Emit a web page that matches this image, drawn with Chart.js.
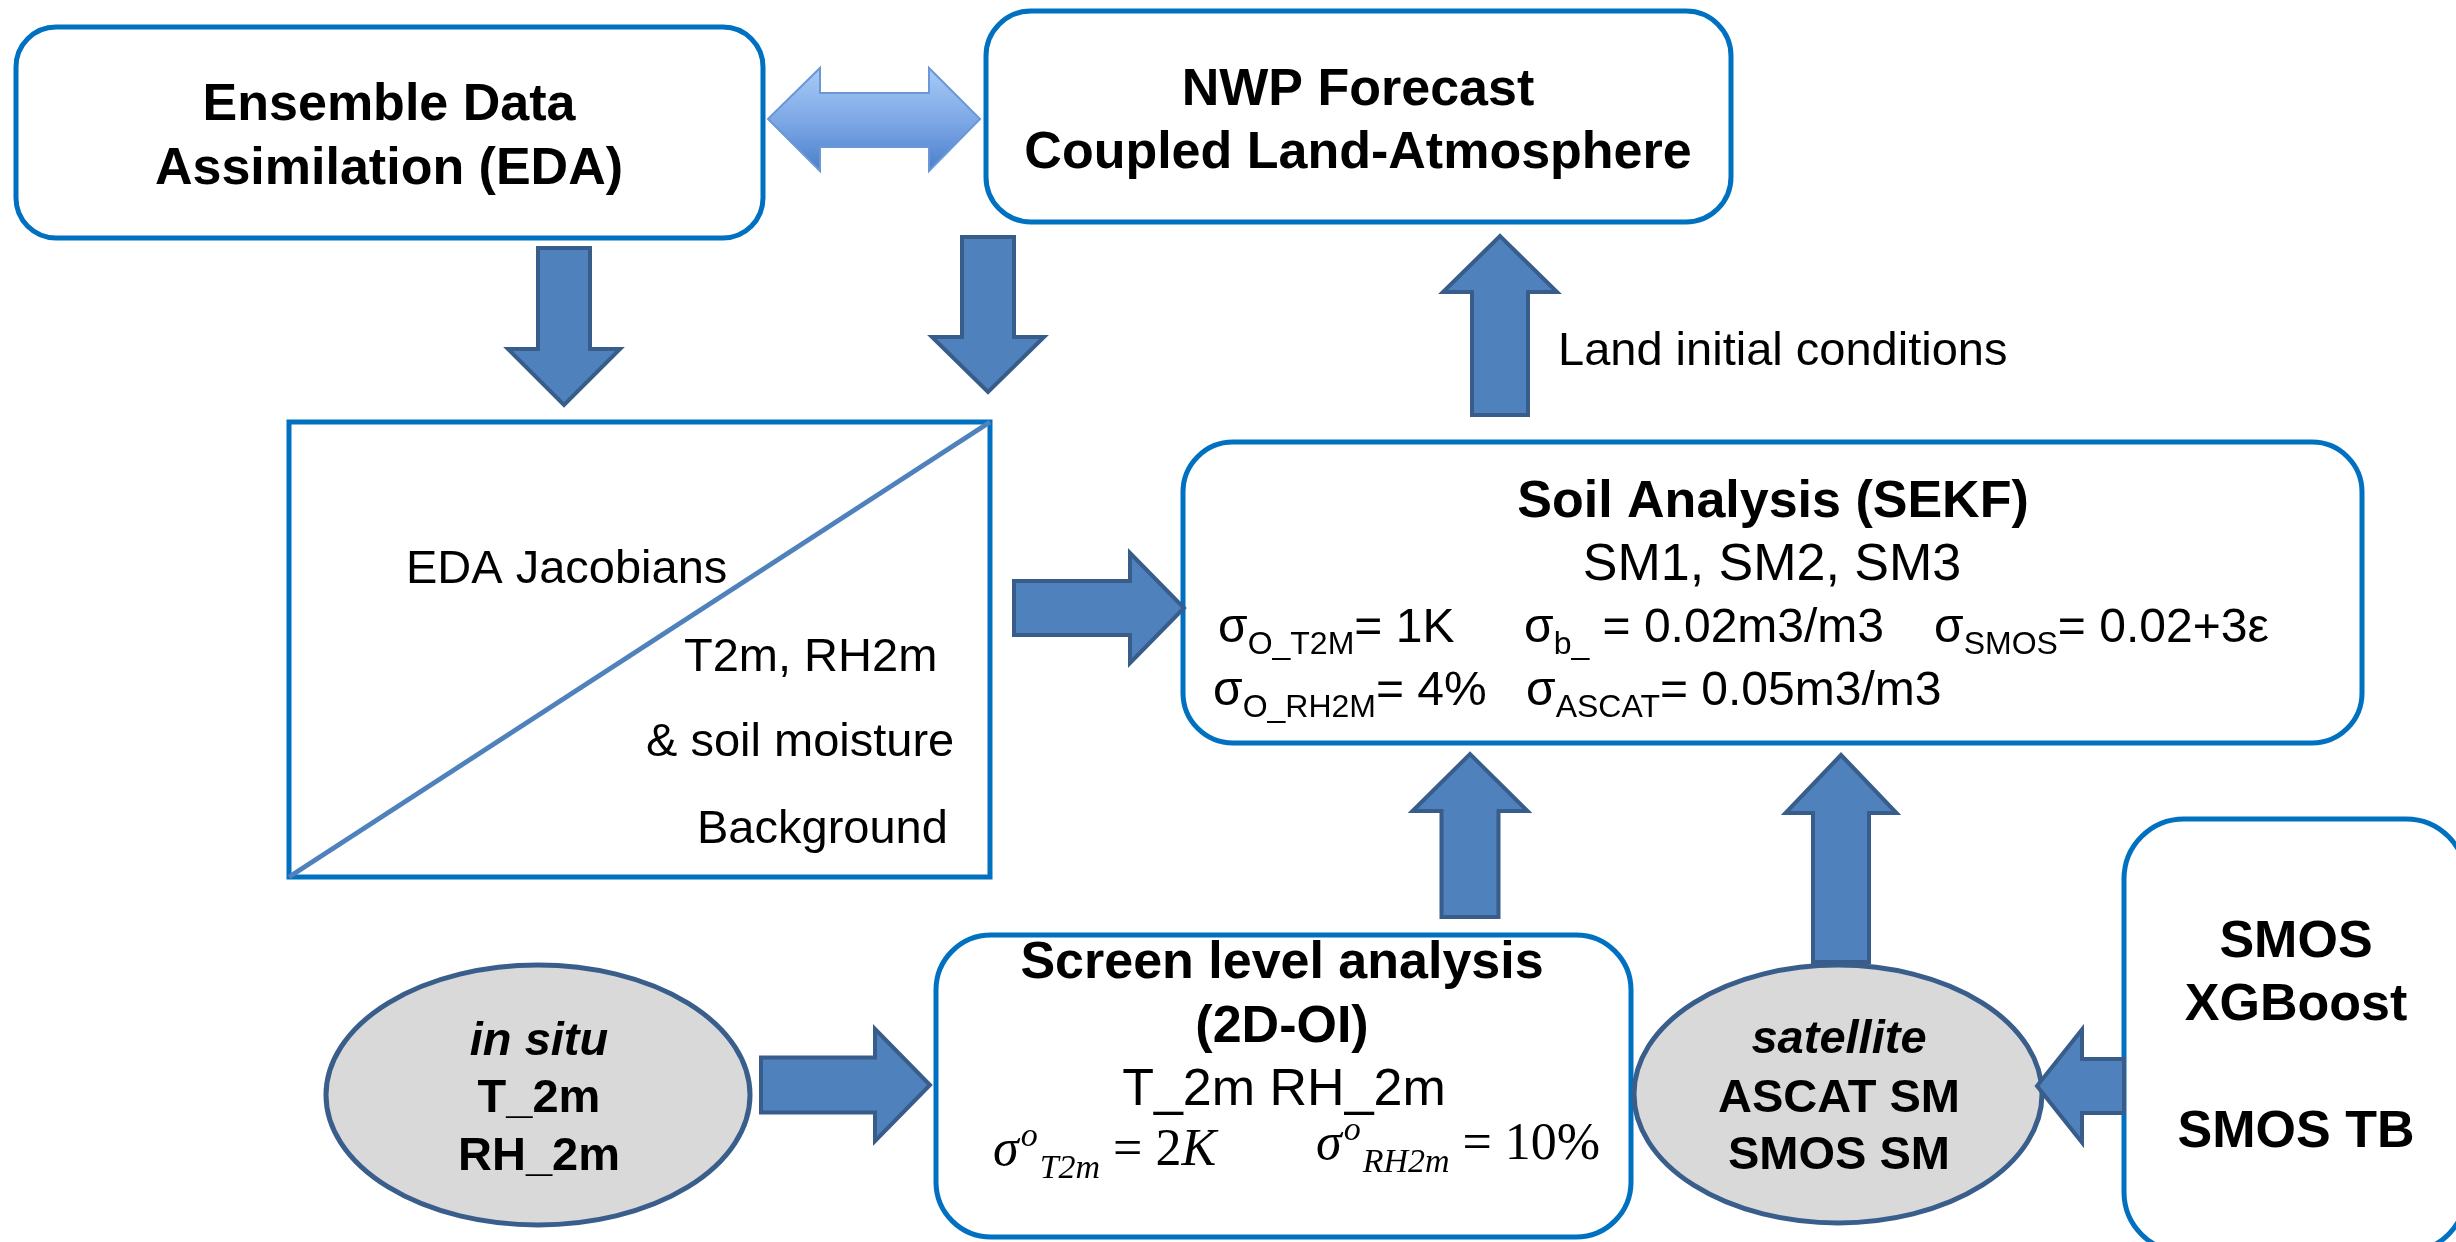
<!DOCTYPE html>
<html>
<head>
<meta charset="utf-8">
<script src="https://cdn.jsdelivr.net/npm/chart.js@4.4.1/dist/chart.umd.min.js"></script>
<style>
  html, body { margin: 0; padding: 0; background: #fff; }
  #wrap { width: 2456px; height: 1242px; position: relative; }
</style>
</head>
<body>
<div id="wrap"><canvas id="diagram"></canvas></div>
<script>
// canvas extent in data units (1 unit = 1 px of the reference)
const W = 2456, H = 1242;

// node texts
const edaLines = ['Ensemble Data', 'Assimilation (EDA)'];
const nwpLines = ['NWP Forecast', 'Coupled Land-Atmosphere'];
const linkLabel = 'Land initial conditions';
const jacLines = ['EDA Jacobians', 'T2m, RH2m', '& soil moisture', 'Background'];
const soilLines = ['Soil Analysis (SEKF)', 'SM1, SM2, SM3'];
const screenLines = ['Screen level analysis', '(2D-OI)', 'T_2m RH_2m'];
const insituLines = ['in situ', 'T_2m', 'RH_2m'];
const satLines = ['satellite', 'ASCAT SM', 'SMOS SM'];
const smosLines = ['SMOS', 'XGBoost', 'SMOS TB'];

// error settings in the soil analysis box: [symbol subscript, value]
const soilSigmaRow1 = [['O_T2M', '= 1K'], ['b_', ' = 0.02m3/m3'], ['SMOS', '= 0.02+3\u03b5']];
const soilSigmaRow2 = [['O_RH2M', '= 4%'], ['ASCAT', '= 0.05m3/m3']];
const screenSigma = [['T2m', ' = 2', 'K'], ['RH2m', ' = 10%', '']];

// layout: boxes [x0, y0, x1, y1, radius]
const roundBoxes = [
  [16, 27, 763, 238, 40],
  [986, 11, 1731, 222, 45],
  [1183, 442, 2362, 743, 50],
  [936, 935, 1631, 1237, 55],
  [2124, 819, 2466, 1252, 60]
];
const jacBox = [289, 422, 990, 877];
const ellipses = [[538, 1095, 212, 130], [1838, 1094, 204, 129]];
// block arrows [tailX, tailY, tipX, tipY, shaft, head, headLen]
const arrows = [
  [564, 248, 564, 405, 52, 112, 56],
  [988, 237, 988, 392, 52, 112, 55],
  [1500, 415, 1500, 236, 56, 114, 56],
  [1014, 608, 1184, 608, 54, 110, 54],
  [1470, 917, 1470, 754, 57, 115, 57],
  [1841, 962, 1841, 755, 56, 111, 58],
  [761, 1085, 930, 1085, 55, 112, 55],
  [2124, 1086, 2037, 1086, 54, 113, 45]
];
const diagonal = [{x: 289, y: 877}, {x: 990, y: 422}];

const SANS = '"Liberation Sans", Arial, sans-serif';
const SERIF = '"Liberation Serif", "Times New Roman", serif';

const diagramPlugin = {
  id: 'diagram',
  beforeDatasetsDraw(chart) {
    const ctx = chart.ctx, sx = chart.scales.x, sy = chart.scales.y;
    const px = v => sx.getPixelForValue(v), py = v => sy.getPixelForValue(v);
    ctx.save();

    // rounded boxes
    roundBoxes.forEach(([x0, y0, x1, y1, r]) => {
      const a = px(x0), b = py(y0), c = px(x1), d = py(y1);
      ctx.beginPath();
      ctx.moveTo(a + r, b);
      ctx.arcTo(c, b, c, d, r);
      ctx.arcTo(c, d, a, d, r);
      ctx.arcTo(a, d, a, b, r);
      ctx.arcTo(a, b, c, b, r);
      ctx.closePath();
      ctx.fillStyle = '#fff';
      ctx.fill();
      ctx.lineWidth = 5;
      ctx.strokeStyle = '#0070C0';
      ctx.stroke();
    });

    // jacobian box
    ctx.lineWidth = 5;
    ctx.strokeStyle = '#0070C0';
    ctx.strokeRect(px(jacBox[0]), py(jacBox[1]), px(jacBox[2]) - px(jacBox[0]), py(jacBox[3]) - py(jacBox[1]));

    // observation ellipses
    ellipses.forEach(([cx, cy, rx, ry]) => {
      ctx.beginPath();
      ctx.ellipse(px(cx), py(cy), rx, ry, 0, 0, Math.PI * 2);
      ctx.fillStyle = '#D9D9D9';
      ctx.fill();
      ctx.lineWidth = 5;
      ctx.strokeStyle = '#3A5E8C';
      ctx.stroke();
    });

    // block arrows
    arrows.forEach(([x0, y0, x1, y1, sw, hw, hl]) => {
      const a = px(x0), b = py(y0), c = px(x1), d = py(y1);
      const len = Math.hypot(c - a, d - b);
      const ux = (c - a) / len, uy = (d - b) / len, nx = -uy, ny = ux;
      const pts = [
        [0, sw / 2], [len - hl, sw / 2], [len - hl, hw / 2], [len, 0],
        [len - hl, -hw / 2], [len - hl, -sw / 2], [0, -sw / 2]
      ];
      ctx.beginPath();
      pts.forEach(([s, t], i) => {
        const X = a + ux * s + nx * t, Y = b + uy * s + ny * t;
        i ? ctx.lineTo(X, Y) : ctx.moveTo(X, Y);
      });
      ctx.closePath();
      ctx.fillStyle = '#4F81BD';
      ctx.fill();
      ctx.lineJoin = 'miter';
      ctx.lineWidth = 4;
      ctx.strokeStyle = '#385D8A';
      ctx.stroke();
    });

    // double arrow between EDA and forecast
    const L = px(768), R = px(980), nl = px(820), nr = px(929), cy = py(119);
    const st = py(93), sb = py(147), ht = py(68), hb = py(171);
    ctx.beginPath();
    ctx.moveTo(L, cy); ctx.lineTo(nl, ht); ctx.lineTo(nl, st); ctx.lineTo(nr, st);
    ctx.lineTo(nr, ht); ctx.lineTo(R, cy); ctx.lineTo(nr, hb); ctx.lineTo(nr, sb);
    ctx.lineTo(nl, sb); ctx.lineTo(nl, hb); ctx.closePath();
    const g = ctx.createLinearGradient(0, ht, 0, hb);
    g.addColorStop(0, '#A7CBF8');
    g.addColorStop(0.5, '#7FA9E6');
    g.addColorStop(1, '#4A7FCB');
    ctx.fillStyle = g;
    ctx.fill();
    ctx.lineWidth = 2;
    ctx.strokeStyle = '#6A98D6';
    ctx.stroke();
    ctx.restore();
  },
  afterDatasetsDraw(chart) {
    const ctx = chart.ctx, sx = chart.scales.x, sy = chart.scales.y;
    const px = v => sx.getPixelForValue(v), py = v => sy.getPixelForValue(v);
    ctx.save();
    ctx.fillStyle = '#000';
    ctx.textBaseline = 'alphabetic';

    const text = (s, x, y, font, align) => {
      ctx.font = font;
      ctx.textAlign = align || 'center';
      ctx.fillText(s, px(x), py(y));
    };
    // segments: [string, font, dy]
    const rich = (segs, x, y) => {
      let cx = px(x);
      ctx.textAlign = 'left';
      segs.forEach(([s, font, dy]) => {
        ctx.font = font;
        ctx.fillText(s, cx, py(y) + (dy || 0));
        cx += ctx.measureText(s).width;
      });
    };

    const B52 = 'bold 52px ' + SANS, R52 = '52px ' + SANS;
    const B47 = 'bold 47px ' + SANS, R47 = '47px ' + SANS;

    text(edaLines[0], 389, 120, B52);
    text(edaLines[1], 389, 184, B52);
    text(nwpLines[0], 1358, 105, B52);
    text(nwpLines[1], 1358, 168, B52);
    text(linkLabel, 1558, 365, R47, 'left');

    text(jacLines[0], 406, 583, R47, 'left');
    text(jacLines[1], 684, 671, R47, 'left');
    text(jacLines[2], 646, 756, R47, 'left');
    text(jacLines[3], 697, 843, R47, 'left');

    text(soilLines[0], 1773, 517, B52);
    text(soilLines[1], 1772, 580, R52);
    const sig = '48px ' + SANS, sub = '32px ' + SANS;
    const row1X = [1218, 1524, 1934], row2X = [1213, 1526];
    soilSigmaRow1.forEach(([s, v], i) => rich([['\u03c3', sig], [s, sub, 12], [v, sig]], row1X[i], 642));
    soilSigmaRow2.forEach(([s, v], i) => rich([['\u03c3', sig], [s, sub, 12], [v, sig]], row2X[i], 705));

    text(screenLines[0], 1282, 978, B52);
    text(screenLines[1], 1282, 1042, B52);
    text(screenLines[2], 1284, 1105, R52);
    const mi = 'italic 52px ' + SERIF, mr = '52px ' + SERIF, ms = 'italic 34px ' + SERIF;
    const mathX = [993, 1316], mathY = [1165, 1159];
    screenSigma.forEach(([s, v, u], i) => {
      ctx.font = mi;
      const x0 = mathX[i], wS = ctx.measureText('\u03c3').width;
      rich([['\u03c3', mi]], x0, mathY[i]);
      rich([['o', ms, -19]], x0 + wS + 2, mathY[i]);
      ctx.font = ms;
      const wO = ctx.measureText('o').width;
      rich([[s, ms, 13], [v, mr], [u, mi]], x0 + wS + wO + 4, mathY[i]);
    });

    text(insituLines[0], 539, 1055, 'italic ' + B47);
    text(insituLines[1], 539, 1112, B47);
    text(insituLines[2], 539, 1170, B47);
    text(satLines[0], 1839, 1053, 'italic ' + B47);
    text(satLines[1], 1839, 1112, B47);
    text(satLines[2], 1839, 1169, B47);

    text(smosLines[0], 2296, 957, B52);
    text(smosLines[1], 2296, 1020, B52);
    text(smosLines[2], 2296, 1147, B52);
    ctx.restore();
  }
};

new Chart(document.getElementById('diagram').getContext('2d'), {
  type: 'scatter',
  data: {
    datasets: [{
      data: diagonal,
      showLine: true,
      borderColor: '#4F81BD',
      borderWidth: 5,
      pointRadius: 0,
      clip: false
    }]
  },
  options: {
    responsive: true,
    maintainAspectRatio: false,
    animation: false,
    devicePixelRatio: 1,
    layout: { padding: 0 },
    events: [],
    plugins: { legend: { display: false }, tooltip: { enabled: false } },
    scales: {
      x: { type: 'linear', min: 0, max: W, display: false },
      y: { type: 'linear', min: 0, max: H, reverse: true, display: false }
    }
  },
  plugins: [diagramPlugin]
});
</script>
</body>
</html>
